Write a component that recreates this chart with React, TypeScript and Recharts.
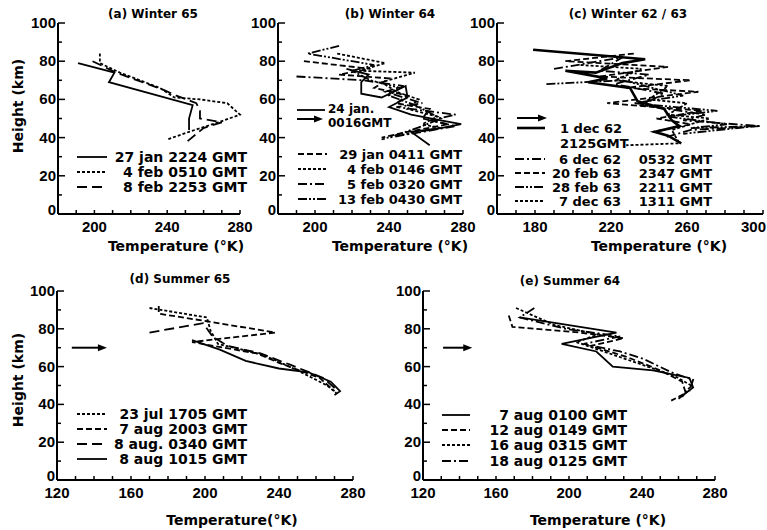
import React from 'react';
import { ScatterChart, Scatter, XAxis, YAxis, ReferenceLine } from 'recharts';

type P = { t: number; h: number };

// ---------- (a) Winter 65 ----------
const a27Jan2224: P[] = [
  { t: 191, h: 79 }, { t: 211, h: 74 }, { t: 208, h: 69 }, { t: 254, h: 57 },
  { t: 252, h: 50 }, { t: 252, h: 44 },
];
const a4Feb0510: P[] = [
  { t: 203, h: 84 }, { t: 203, h: 79 }, { t: 214, h: 74 }, { t: 236, h: 66 }, { t: 244, h: 61 },
  { t: 258, h: 60 }, { t: 273, h: 58 }, { t: 280, h: 52 }, { t: 268, h: 48 }, { t: 252, h: 43 }, { t: 240, h: 39 },
];
const a8Feb2253: P[] = [
  { t: 199, h: 80 }, { t: 212, h: 74 }, { t: 238, h: 65 }, { t: 245, h: 62 }, { t: 256, h: 58 },
  { t: 258, h: 54 }, { t: 258, h: 50 }, { t: 270, h: 48 }, { t: 260, h: 45 }, { t: 251, h: 38 },
];

// ---------- (b) Winter 64 ----------
const b24Jan0016: P[] = [
  { t: 217, h: 76 }, { t: 229, h: 73 }, { t: 225, h: 69 }, { t: 225, h: 63 }, { t: 236, h: 61 },
  { t: 249, h: 67 }, { t: 250, h: 61 }, { t: 240, h: 56 }, { t: 252, h: 52 }, { t: 268, h: 49 },
  { t: 279, h: 47 }, { t: 268, h: 45 }, { t: 252, h: 43 }, { t: 262, h: 36 },
];
const b29Jan0411: P[] = [
  { t: 194, h: 80 }, { t: 230, h: 76 }, { t: 213, h: 73 }, { t: 240, h: 71 }, { t: 232, h: 66 },
  { t: 250, h: 62 }, { t: 244, h: 58 }, { t: 262, h: 55 }, { t: 258, h: 50 }, { t: 272, h: 47 },
  { t: 250, h: 43 }, { t: 236, h: 40 },
];
const b4Feb0146: P[] = [
  { t: 212, h: 84 }, { t: 238, h: 79 }, { t: 224, h: 75 }, { t: 254, h: 74 }, { t: 236, h: 69 },
  { t: 244, h: 64 }, { t: 256, h: 60 }, { t: 250, h: 55 }, { t: 266, h: 51 }, { t: 258, h: 47 },
  { t: 268, h: 45 }, { t: 244, h: 41 },
];
const b5Feb0320: P[] = [
  { t: 190, h: 72 }, { t: 226, h: 70 }, { t: 248, h: 67 }, { t: 238, h: 64 }, { t: 258, h: 58 },
  { t: 244, h: 56 }, { t: 276, h: 52 }, { t: 262, h: 49 }, { t: 276, h: 46 }, { t: 252, h: 42 }, { t: 240, h: 40 },
];
const b13Feb0430: P[] = [
  { t: 213, h: 88 }, { t: 196, h: 84 }, { t: 232, h: 78 }, { t: 220, h: 75 }, { t: 230, h: 70 },
  { t: 246, h: 66 }, { t: 240, h: 62 }, { t: 254, h: 57 }, { t: 268, h: 50 }, { t: 258, h: 46 },
  { t: 246, h: 42 }, { t: 236, h: 39 },
];

// ---------- (c) Winter 62/63 ----------
const c1Dec62: P[] = [
  { t: 179, h: 86 }, { t: 238, h: 81 }, { t: 226, h: 79 }, { t: 212, h: 74 }, { t: 196, h: 75 },
  { t: 218, h: 71 }, { t: 208, h: 69 }, { t: 230, h: 66 }, { t: 234, h: 59 }, { t: 248, h: 55 },
  { t: 252, h: 49 }, { t: 256, h: 46 }, { t: 243, h: 43 }, { t: 250, h: 41 }, { t: 257, h: 37 },
];
const c6Dec62: P[] = [
  { t: 190, h: 76 }, { t: 226, h: 82 }, { t: 214, h: 75 }, { t: 240, h: 73 }, { t: 222, h: 68 },
  { t: 248, h: 63 }, { t: 236, h: 57 }, { t: 270, h: 52 }, { t: 258, h: 49 }, { t: 299, h: 46 },
  { t: 262, h: 44 }, { t: 248, h: 40 },
];
const c20Feb63: P[] = [
  { t: 232, h: 84 }, { t: 196, h: 80 }, { t: 250, h: 77 }, { t: 214, h: 72 }, { t: 262, h: 70 },
  { t: 228, h: 66 }, { t: 266, h: 64 }, { t: 218, h: 58 }, { t: 268, h: 54 }, { t: 244, h: 50 },
  { t: 262, h: 47 }, { t: 242, h: 43 },
];
const c28Feb63: P[] = [
  { t: 186, h: 68 }, { t: 226, h: 70 }, { t: 258, h: 62 }, { t: 232, h: 58 }, { t: 276, h: 54 },
  { t: 250, h: 51 }, { t: 281, h: 47 }, { t: 262, h: 45 }, { t: 296, h: 46 }, { t: 258, h: 42 },
];
const c7Dec63: P[] = [
  { t: 204, h: 78 }, { t: 236, h: 76 }, { t: 222, h: 70 }, { t: 250, h: 67 }, { t: 240, h: 60 },
  { t: 260, h: 58 }, { t: 250, h: 52 }, { t: 272, h: 50 }, { t: 252, h: 44 }, { t: 256, h: 37 }, { t: 228, h: 36 },
];

// ---------- (d) Summer 65 ----------
const d23Jul1705: P[] = [
  { t: 170, h: 91 }, { t: 201, h: 86 }, { t: 203, h: 79 }, { t: 207, h: 72 }, { t: 220, h: 69 },
  { t: 232, h: 66 }, { t: 250, h: 58 }, { t: 266, h: 50 }, { t: 271, h: 46 },
];
const d7Aug2003: P[] = [
  { t: 175, h: 92 }, { t: 175, h: 88 }, { t: 201, h: 84 }, { t: 238, h: 78 }, { t: 193, h: 73 },
  { t: 210, h: 70 }, { t: 228, h: 67 }, { t: 240, h: 62 }, { t: 262, h: 54 }, { t: 270, h: 47 },
];
const d8Aug0340: P[] = [
  { t: 170, h: 78 }, { t: 199, h: 83 }, { t: 204, h: 76 }, { t: 212, h: 71 }, { t: 230, h: 67 },
  { t: 246, h: 61 }, { t: 264, h: 54 }, { t: 272, h: 47 },
];
const d8Aug1015: P[] = [
  { t: 193, h: 74 }, { t: 208, h: 69 }, { t: 222, h: 63 }, { t: 240, h: 59 }, { t: 256, h: 57 },
  { t: 268, h: 52 }, { t: 273, h: 47 }, { t: 270, h: 45 },
];

// ---------- (e) Summer 64 ----------
const e7Aug0100: P[] = [
  { t: 173, h: 86 }, { t: 226, h: 78 }, { t: 196, h: 72 }, { t: 215, h: 68 }, { t: 224, h: 60 },
  { t: 246, h: 58 }, { t: 266, h: 54 }, { t: 268, h: 49 }, { t: 260, h: 43 },
];
const e12Aug0149: P[] = [
  { t: 167, h: 87 }, { t: 169, h: 81 }, { t: 206, h: 78 }, { t: 230, h: 75 }, { t: 212, h: 71 },
  { t: 232, h: 65 }, { t: 250, h: 58 }, { t: 262, h: 52 }, { t: 264, h: 46 }, { t: 256, h: 42 },
];
const e16Aug0315: P[] = [
  { t: 171, h: 91 }, { t: 192, h: 82 }, { t: 216, h: 77 }, { t: 204, h: 73 }, { t: 222, h: 67 },
  { t: 240, h: 61 }, { t: 258, h: 55 }, { t: 267, h: 50 }, { t: 262, h: 44 },
];
const e18Aug0125: P[] = [
  { t: 181, h: 91 }, { t: 173, h: 86 }, { t: 198, h: 80 }, { t: 228, h: 76 }, { t: 208, h: 72 },
  { t: 228, h: 68 }, { t: 241, h: 64 }, { t: 256, h: 57 }, { t: 268, h: 53 }, { t: 266, h: 47 },
];

// ---------- ticks / labels ----------
const heightTicks = [0, 10, 20, 30, 40, 50, 60, 70, 80, 90, 100];
const heightLabels = [0, 20, 40, 60, 80, 100];
const ticksAB = [180, 190, 200, 210, 220, 230, 240, 250, 260, 270, 280];
const labelsAB = [200, 240, 280];
const ticksC = [160, 170, 180, 190, 200, 210, 220, 230, 240, 250, 260, 270, 280, 290, 300];
const labelsC = [180, 220, 260, 300];
const ticksDE = [120, 130, 140, 150, 160, 170, 180, 190, 200, 210, 220, 230, 240, 250, 260, 270, 280];
const labelsDE = [120, 160, 200, 240, 280];

const titles = ['(a) Winter 65', '(b) Winter 64', '(c) Winter 62 / 63', '(d) Summer 65', '(e) Summer 64'];
const xTitleTop = 'Temperature (°K)';
const xTitleBottom = 'Temperature(°K)';
const yTitle = 'Height (km)';

const legendA = ['27 jan 2224 GMT', '4 feb 0510 GMT', '8 feb 2253 GMT'];
const legendB1 = ['24 jan.', '0016GMT'];
const legendB = ['29 jan 0411 GMT', '4 feb 0146 GMT', '5 feb 0320 GMT', '13 feb 0430 GMT'];
const legendC1 = ['1 dec 62', '2125GMT'];
const legendCDates = ['6 dec 62', '20 feb 63', '28 feb 63', '7 dec 63'];
const legendCTimes = ['0532 GMT', '2347 GMT', '2211 GMT', '1311 GMT'];
const legendD = ['23 jul 1705 GMT', '7 aug 2003 GMT', '8 aug. 0340 GMT', '8 aug 1015 GMT'];
const legendE = ['7 aug 0100 GMT', '12 aug 0149 GMT', '16 aug 0315 GMT', '18 aug 0125 GMT'];

const DASH: Record<string, string | undefined> = {
  solid: undefined,
  dotted: '3 2',
  dashed: '6 3',
  longDash: '10 5',
  dashDot: '9 3 2 3',
  dashDotDot: '9 2 2 2 2 2',
};

type S = { data: P[]; dash: string; width?: number };

const seriesA: S[] = [
  { data: a27Jan2224, dash: 'solid' },
  { data: a4Feb0510, dash: 'dotted' },
  { data: a8Feb2253, dash: 'longDash' },
];
const seriesB: S[] = [
  { data: b24Jan0016, dash: 'solid' },
  { data: b29Jan0411, dash: 'dashed' },
  { data: b4Feb0146, dash: 'dotted' },
  { data: b5Feb0320, dash: 'dashDot' },
  { data: b13Feb0430, dash: 'dashDotDot' },
];
const seriesC: S[] = [
  { data: c1Dec62, dash: 'solid', width: 2.6 },
  { data: c6Dec62, dash: 'dashDot' },
  { data: c20Feb63, dash: 'dashed' },
  { data: c28Feb63, dash: 'dashDotDot' },
  { data: c7Dec63, dash: 'dotted' },
];
const seriesD: S[] = [
  { data: d23Jul1705, dash: 'dotted' },
  { data: d7Aug2003, dash: 'dashed' },
  { data: d8Aug0340, dash: 'longDash' },
  { data: d8Aug1015, dash: 'solid' },
];
const seriesE: S[] = [
  { data: e7Aug0100, dash: 'solid' },
  { data: e12Aug0149, dash: 'dashed' },
  { data: e16Aug0315, dash: 'dotted' },
  { data: e18Aug0125, dash: 'dashDot' },
];

const TICK_FONT = "'Liberation Sans', Arial, sans-serif";
const FONT = "'DejaVu Sans', Verdana, sans-serif";
const W = 767;
const H = 530;

const makeYTick = (labels: number[]) => (props: any) => {
  const { x, y, payload } = props;
  const v = payload.value;
  const major = labels.includes(v);
  return (
    <g>
      <line x1={x} x2={x + (major ? 7 : 4)} y1={y} y2={y} stroke="#000" strokeWidth={1.5} />
      {major && (
        <text x={x - 2} y={v === 0 ? y + 1 : y + 5} textAnchor="end" fontFamily={TICK_FONT} fontWeight={700} fontSize={15} fill="#000">
          {v}
        </text>
      )}
    </g>
  );
};

const makeXTick = (labels: number[], last: number) => (props: any) => {
  const { x, y, payload } = props;
  const v = payload.value;
  const major = labels.includes(v);
  const edge = v === last && x > W - 16;
  return (
    <g>
      <line x1={x} x2={x} y1={y} y2={y - 4} stroke="#000" strokeWidth={1.5} />
      {major && (
        <text
          x={edge ? W - 1 : x}
          y={y + 18}
          textAnchor={edge ? 'end' : 'middle'}
          fontFamily={TICK_FONT}
          fontWeight={700}
          fontSize={15}
          fill="#000"
        >
          {v}
        </text>
      )}
    </g>
  );
};

const ArrowShape = (p: any) => {
  const { x1, y1, x2, y2 } = p;
  return (
    <g>
      <line x1={x1} y1={y1} x2={x2 - 4} y2={y2} stroke="#000" strokeWidth={2} />
      <polygon points={`${x2},${y2} ${x2 - 9},${y2 - 3.5} ${x2 - 9},${y2 + 3.5}`} fill="#000" />
    </g>
  );
};

const NoShape = () => <g />;

type PanelProps = {
  left: number;
  right: number;
  top: number;
  bottom: number;
  domain: [number, number];
  ticks: number[];
  labels: number[];
  series: S[];
  arrow?: [number, number, number];
};

function Panel({ left, right, top, bottom, domain, ticks, labels, series, arrow }: PanelProps) {
  return (
    <div style={{ position: 'absolute', left: 0, top: 0, width: W, height: H }}>
      <ScatterChart
        width={W}
        height={H}
        margin={{ left: left - 30, right: W - right, top, bottom: H - bottom - 30 }}
      >
        <XAxis
          type="number"
          dataKey="t"
          domain={domain}
          ticks={ticks}
          interval={0}
          height={30}
          tickSize={0}
          tickMargin={0}
          tickLine={false}
          axisLine={{ stroke: '#000', strokeWidth: 2 }}
          tick={makeXTick(labels, domain[1])}
        />
        <YAxis
          type="number"
          dataKey="h"
          domain={[0, 100]}
          ticks={heightTicks}
          interval={0}
          width={30}
          tickSize={0}
          tickMargin={0}
          tickLine={false}
          axisLine={{ stroke: '#000', strokeWidth: 2 }}
          tick={makeYTick(heightLabels)}
        />
        {series.map((s, i) => (
          <Scatter
            key={i}
            data={s.data}
            fill="#000"
            shape={NoShape}
            isAnimationActive={false}
            line={{ stroke: '#000', strokeWidth: s.width ?? 1.8, strokeDasharray: DASH[s.dash], fill: 'none' }}
          />
        ))}
        {arrow && (
          <ReferenceLine
            segment={[{ x: arrow[0], y: arrow[2] }, { x: arrow[1], y: arrow[2] }]}
            shape={ArrowShape}
          />
        )}
      </ScatterChart>
    </div>
  );
}

const T = (props: any) => (
  <text fontFamily={FONT} fontWeight={700} fontSize={13} fill="#000" {...props} />
);

const Sample = ({ x1, x2, y, dash, w = 1.8 }: any) => (
  <line x1={x1} x2={x2} y1={y} y2={y} stroke="#000" strokeWidth={w} strokeDasharray={DASH[dash]} />
);

const Arrow = ({ x1, x2, y }: any) => (
  <g>
    <line x1={x1} x2={x2 - 4} y1={y} y2={y} stroke="#000" strokeWidth={2} />
    <polygon points={`${x2},${y} ${x2 - 9},${y - 3.5} ${x2 - 9},${y + 3.5}`} fill="#000" />
  </g>
);

function Overlay() {
  const aRows = [157, 172, 187];
  const bRows = [154, 169, 184, 199];
  const cRows = [159, 173, 187, 201];
  const dRows = [414, 429, 444, 459];
  const eRows = [415, 430, 445, 461];
  return (
    <svg
      width={W}
      height={H}
      style={{ position: 'absolute', left: 0, top: 0, pointerEvents: 'none' }}
    >
      {/* titles */}
      <T x={153} y={18} textAnchor="middle" fontSize={12}>{titles[0]}</T>
      <T x={390} y={18} textAnchor="middle" fontSize={12}>{titles[1]}</T>
      <T x={628} y={18} textAnchor="middle" fontSize={12}>{titles[2]}</T>
      <T x={180} y={283} textAnchor="middle" fontSize={12}>{titles[3]}</T>
      <T x={570} y={285} textAnchor="middle" fontSize={12}>{titles[4]}</T>

      {/* axis titles */}
      <T x={176} y={251} textAnchor="middle" fontSize={14}>{xTitleTop}</T>
      <T x={400} y={251} textAnchor="middle" fontSize={14}>{xTitleTop}</T>
      <T x={659} y={251} textAnchor="middle" fontSize={14}>{xTitleTop}</T>
      <T x={232} y={525} textAnchor="middle" fontSize={14}>{xTitleBottom}</T>
      <T x={598} y={525} textAnchor="middle" fontSize={14}>{xTitleTop}</T>
      <T transform="translate(23,106) rotate(-90)" textAnchor="middle" fontSize={14}>{yTitle}</T>
      <T transform="translate(23,380) rotate(-90)" textAnchor="middle" fontSize={14}>{yTitle}</T>

      {/* legend a */}
      {legendA.map((l, i) => (
        <g key={l}>
          <Sample x1={77} x2={107} y={aRows[i]} dash={seriesA[i].dash} />
          <T x={247} y={aRows[i] + 5} textAnchor="end" fontSize={14}>{l}</T>
        </g>
      ))}

      {/* legend b */}
      <Sample x1={297} x2={325} y={110} dash="solid" />
      <Arrow x1={297} x2={323} y={119} />
      <T x={328} y={113} fontSize={12}>{legendB1[0]}</T>
      <T x={328} y={127} fontSize={12}>{legendB1[1]}</T>
      {legendB.map((l, i) => (
        <g key={l}>
          <Sample x1={298} x2={327} y={bRows[i]} dash={seriesB[i + 1].dash} />
          <T x={462} y={bRows[i] + 5} textAnchor="end">{l}</T>
        </g>
      ))}

      {/* legend c */}
      <Arrow x1={517} x2={547} y={118} />
      <Sample x1={517} x2={545} y={128} dash="solid" w={2.6} />
      <T x={560} y={133}>{legendC1[0]}</T>
      <T x={560} y={148}>{legendC1[1]}</T>
      {legendCDates.map((l, i) => (
        <g key={l}>
          <Sample x1={515} x2={545} y={cRows[i]} dash={seriesC[i + 1].dash} />
          <T x={621} y={cRows[i] + 5} textAnchor="end">{l}</T>
          <T x={712} y={cRows[i] + 5} textAnchor="end">{legendCTimes[i]}</T>
        </g>
      ))}

      {/* legend d */}
      {legendD.map((l, i) => (
        <g key={l}>
          <Sample x1={77} x2={107} y={dRows[i]} dash={seriesD[i].dash} />
          <T x={247} y={dRows[i] + 5} textAnchor="end" fontSize={14}>{l}</T>
        </g>
      ))}

      {/* legend e */}
      {legendE.map((l, i) => (
        <g key={l}>
          <Sample x1={442} x2={470} y={eRows[i]} dash={seriesE[i].dash} />
          <T x={627} y={eRows[i] + 5} textAnchor="end" fontSize={14}>{l}</T>
        </g>
      ))}
    </svg>
  );
}

export default function App() {
  return (
    <div style={{ position: 'absolute', left: 0, top: 0, width: W, height: H, background: '#fff', overflow: 'hidden' }}>
      <Panel left={58} right={240} top={23} bottom={214} domain={[180, 280]} ticks={ticksAB} labels={labelsAB} series={seriesA} />
      <Panel left={278} right={463} top={23} bottom={214} domain={[180, 280]} ticks={ticksAB} labels={labelsAB} series={seriesB} />
      <Panel left={497} right={763} top={23} bottom={214} domain={[160, 300]} ticks={ticksC} labels={labelsC} series={seriesC} />
      <Panel left={57} right={353} top={291} bottom={480} domain={[120, 280]} ticks={ticksDE} labels={labelsDE} series={seriesD} arrow={[128, 147, 70]} />
      <Panel left={423} right={715} top={291} bottom={480} domain={[120, 280]} ticks={ticksDE} labels={labelsDE} series={seriesE} arrow={[131, 147, 70]} />
      <Overlay />
    </div>
  );
}
